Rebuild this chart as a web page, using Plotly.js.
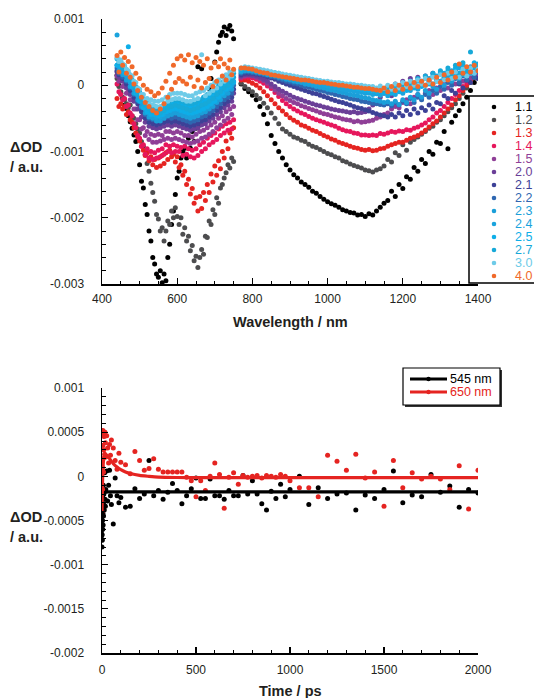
<!DOCTYPE html>
<html>
<head>
<meta charset="utf-8">
<script src="https://cdn.plot.ly/plotly-3.0.1.min.js"></script>
<style>html,body{margin:0;padding:0;background:#fff;}#chart{width:534px;height:698px;}</style>
</head>
<body>
<div id="chart"></div>
<script>
// ---------------- DATA (top panel, values in units of 1e-4 ΔOD) ----------------
const seriesNames = ['1.1','1.2','1.3','1.4','1.5','2.0','2.1','2.2','2.3','2.4','2.5','2.7','3.0','4.0'];
const seriesColors = ['#000000','#4d4d4f','#e52421','#e6175c','#8f3f97','#6b3f98','#3d4197','#2f67b1',
                      '#1b9fd9','#1aa3dd','#0eaee8','#17a9d8','#6ecbe8','#f0692a'];

const wlVis = [440,445,450,455,460,465,470,475,480,485,490,495,500,505,510,515,520,525,530,535,540,545,550,555,
               560,565,570,575,580,585,590,595,600,605,610,615,620,625,630,635,640,645,650,655,660,665,670,675,
               680,685,690,695,700,705,710,715,720,725,730,735,740,745,750];
const wlNir = [770,780,790,800,810,820,830,840,850,860,870,880,890,900,910,920,930,940,950,960,970,980,990,1000,
               1010,1020,1030,1040,1050,1060,1070,1080,1090,1100,1110,1120,1130,1140,1150,1160,1170,1180,1190,1200,
               1210,1220,1230,1240,1250,1260,1270,1280,1290,1300,1310,1320,1330,1340,1350,1360,1370,1380,1390,1400];

const vis_1_1 = [1.5,0.0,-1.2,-2.0,-3.0,-3.5,-4.6,-5.5, -6.5,-7.5,-8.5,-10.0,-12.0,-14.5,-15.5,-18.0,
  -19.5,-22.0,-23.5,-26.0,-27.0,-28.5,-29.0,-28.0, -29.8,-28.5,-29.5,-26.0,-24.0,-21.0,-19.0,-16.5,
  -14.0,-13.0,-11.0,-10.0,-9.5,-11.0,-8.0,-9.5, -7.0,-8.5,-6.5,2.8,-6.0,2.5,-4.0,-2.0,
  -3.5,-0.5,1.0,-1.0,3.5,5.0,6.5,7.5, 8.0,8.8,7.5,8.5,9.0,8.2,7.0];
const vis_1_2 = [1.0,-0.2,-1.0,-1.8,-2.2,-2.8,-3.4,-3.0, -4.6,-5.0,-5.8,-6.6,-7.2,-8.5,-9.2,-10.5,
  -11.8,-13.0,-14.8,-16.2,-17.5,-19.5,-20.2,-22.0, -21.5,-23.5,-22.0,-20.5,-21.0,-19.0,-20.0,-18.5,
  -19.8,-21.0,-20.0,-22.5,-21.5,-23.5,-22.8,-25.0, -24.2,-26.5,-25.8,-27.5,-26.0,-24.8,-25.5,-22.8,
  -23.0,-20.5,-21.0,-18.8,-19.5,-17.0,-17.8,-15.5, -15.0,-14.0,-13.2,-12.0,-12.5,-11.0,-11.5];
const vis_1_3 = [-2.0,-3.2,-2.8,-3.6,-3.2,-4.4,-4.0,-5.2, -5.6,-6.4,-7.2,-7.8,-8.4,-9.2,-9.8,-10.6,
  -10.2,-11.4,-10.8,-12.0,-11.2,-12.4,-11.0,-12.2, -10.6,-11.8,-10.2,-11.2,-9.8,-10.8,-10.4,-11.6,
  -10.8,-12.4,-12.0,-13.6,-13.0,-15.0,-14.2,-16.4, -15.6,-17.8,-17.0,-19.0,-16.8,-18.6,-16.2,-17.4,
  -15.0,-16.2,-13.4,-14.6,-12.2,-13.6,-11.4,-12.6, -10.0,-11.0,-8.4,-9.6,-7.2,-8.0,-6.4];
const vis_1_4 = [0.2,-1.0,-1.4,-2.2,-2.0,-3.2,-3.0,-4.2, -4.6,-5.8,-6.4,-7.6,-8.0,-9.2,-9.0,-10.4,
  -9.6,-11.0,-10.0,-11.2,-10.2,-11.0,-9.8,-10.8, -9.6,-10.4,-9.0,-10.0,-9.2,-10.2,-9.0,-10.0,
  -9.2,-10.0,-9.4,-10.6,-9.2,-10.4,-9.6,-10.8, -9.8,-11.0,-9.6,-10.6,-9.0,-10.0,-8.6,-9.6,
  -8.0,-9.0,-7.6,-8.6,-7.2,-8.2,-6.6,-7.6, -6.2,-7.2,-5.8,-6.8,-5.6,-6.6,-5.2];
const vis_1_5 = [1.4,0.6,1.0,-0.2,0.0,-1.2,-1.0,-2.2, -2.2,-3.6,-3.6,-5.2,-5.2,-6.6,-6.4,-7.6,
  -7.0,-8.2,-7.4,-8.6,-7.6,-8.6,-7.4,-8.4, -7.6,-8.2,-7.0,-8.0,-7.0,-8.2,-7.2,-8.0,
  -7.0,-8.2,-7.2,-8.4,-7.6,-8.6,-7.6,-8.8, -7.8,-8.6,-7.4,-8.4,-7.0,-8.0,-6.8,-7.8,
  -6.4,-7.4,-6.0,-7.0,-5.6,-6.4,-5.0,-6.0, -4.6,-5.4,-4.0,-5.0,-3.6,-4.4,-3.2];
const vis_2_0 = [2.0,1.2,1.6,0.6,0.8,-0.4,-0.2,-1.4, -1.2,-2.4,-2.2,-3.6,-3.4,-4.8,-4.4,-5.6,
  -5.0,-6.2,-5.4,-6.4,-5.6,-6.6,-5.4,-6.4, -5.6,-6.2,-5.0,-6.0,-5.0,-6.2,-5.2,-6.0,
  -5.0,-6.2,-5.2,-6.4,-5.6,-6.6,-5.6,-6.8, -5.8,-6.6,-5.4,-6.4,-5.0,-6.0,-4.8,-5.8,
  -4.4,-5.4,-4.0,-5.0,-3.6,-4.4,-3.0,-4.0, -2.6,-3.4,-2.0,-3.0,-1.6,-2.4,-1.2];
const vis_2_1 = [2.2,1.6,1.8,1.0,1.2,0.2,0.4,-0.8, -0.6,-1.8,-1.6,-2.8,-2.8,-4.0,-3.8,-5.0,
  -4.4,-5.6,-4.8,-5.8,-5.0,-6.0,-4.8,-5.8, -5.0,-5.6,-4.4,-5.4,-4.4,-5.6,-4.6,-5.4,
  -4.4,-5.6,-4.6,-5.8,-5.0,-6.0,-5.0,-6.2, -5.2,-6.0,-4.8,-5.8,-4.4,-5.4,-4.2,-5.2,
  -3.8,-4.8,-3.4,-4.4,-3.0,-3.8,-2.4,-3.4, -2.0,-2.8,-1.4,-2.4,-1.0,-1.8,-0.6];
const vis_2_2 = [2.6,1.8,2.2,1.2,1.6,0.6,0.8,-0.4, -0.2,-1.4,-1.2,-2.4,-2.2,-3.4,-3.2,-4.4,
  -3.8,-5.0,-4.2,-5.2,-4.4,-5.4,-4.2,-5.2, -4.4,-5.0,-3.8,-4.8,-3.8,-5.0,-4.0,-4.8,
  -3.8,-5.0,-4.0,-5.2,-4.4,-5.4,-4.4,-5.6, -4.6,-5.4,-4.2,-5.2,-3.8,-4.8,-3.6,-4.6,
  -3.2,-4.2,-2.8,-3.8,-2.4,-3.2,-1.8,-2.8, -1.4,-2.2,-0.8,-1.8,-0.4,-1.2,0.0];
const vis_2_3 = [3.0,2.2,2.6,1.6,1.8,0.8,1.0,-0.2, 0.0,-1.2,-1.0,-2.2,-2.0,-3.2,-3.0,-4.2,
  -3.6,-4.8,-4.0,-5.0,-4.2,-5.4,-4.4,-5.4, -4.2,-5.0,-3.8,-4.6,-3.4,-4.4,-3.4,-4.2,
  -3.2,-4.4,-3.4,-4.6,-3.8,-4.8,-3.8,-5.0, -4.0,-4.8,-3.6,-4.6,-3.2,-4.2,-3.0,-4.0,
  -2.6,-3.6,-2.2,-3.2,-1.8,-2.6,-1.2,-2.2, -0.8,-1.6,-0.2,-1.2,0.2,-0.6,0.6];
const vis_2_4 = [7.6,2.8,3.0,2.2,2.2,1.4,1.4,0.4, 0.4,-0.6,-0.6,-1.6,-1.4,-2.6,-2.4,-3.6,
  -3.0,-4.2,-3.4,-4.4,-3.6,-4.8,-3.8,-4.8, -3.6,-4.4,-3.2,-4.0,-2.8,-3.8,-2.8,-3.6,
  -2.6,-3.8,-2.8,-4.0,-3.2,-4.2,-3.2,-4.4, -3.4,-4.2,-3.0,-4.0,-2.6,-3.6,-2.4,-3.4,
  -2.0,-3.0,-1.6,-2.6,-1.2,-2.0,-0.6,-1.6, -0.2,-1.0,0.4,-0.6,0.8,0.0,1.2];
const vis_2_5 = [3.0,3.8,2.6,3.0,1.8,2.0,5.8,1.0, -0.2,0.0,-1.2,-1.0,-2.4,-2.0,-3.4,-2.8,
  -4.0,-3.2,-4.4,-3.6,-4.4,-3.6,-4.6,-3.6, -4.4,-3.4,-4.0,-3.0,-3.8,-2.8,-3.6,-2.6,
  -3.6,-2.6,-3.8,-2.8,-4.0,-3.0,-4.2,-3.2, -4.2,-3.0,-4.0,-2.8,-3.8,-2.6,-3.6,-2.2,
  -3.2,-1.8,-2.8,-1.4,-2.4,-1.0,-1.8,-0.4, -1.2,0.2,-0.6,0.8,-0.2,1.2,0.4];
const vis_2_7 = [4.0,3.4,3.6,2.6,2.8,1.8,1.8,0.8, 0.8,-0.2,-0.2,-1.2,-1.0,-2.2,-2.0,-3.0,
  -2.6,-3.6,-3.0,-4.0,-3.2,-4.2,-3.4,-4.2, -3.2,-3.8,-2.8,-3.4,-2.4,-3.2,-2.2,-3.0,
  -2.2,-3.2,-2.4,-3.4,-2.6,-3.6,-2.8,-3.8, -2.8,-3.6,-2.6,-3.4,-2.2,-3.0,-1.8,-2.8,
  -1.4,-2.4,-1.0,-2.0,-0.6,-1.4,0.0,-1.0, 0.4,-0.4,1.0,0.0,1.4,0.6,1.8];
const vis_3_0 = [4.2,3.6,3.8,3.2,3.0,2.4,2.2,1.6, 1.4,0.6,0.4,-0.4,-0.6,-1.4,-1.4,-2.2,
  -2.0,-2.8,-2.2,-3.0,-2.4,-3.2,-2.4,-3.2, -2.2,-2.8,-1.8,-2.4,-1.4,-2.2,-1.2,-2.0,
  -1.2,-2.0,-1.2,-2.2,-1.4,-2.4,-1.6,-2.4, -1.6,-2.2,-1.2,-2.0,-1.0,4.6,-0.8,-1.6,
  -0.4,-1.2,0.0,-0.8,0.4,-0.4,0.8,0.2, 1.2,0.6,1.6,1.0,2.0,1.4,2.2];
const vis_4_0 = [4.5,2.0,5.0,3.0,4.2,1.8,3.6,1.2, 2.8,0.2,1.8,-0.8,1.0,-1.8,0.0,-2.6,
  -0.6,-3.2,-1.0,-3.8,-1.6,-4.2,-1.2,-3.6, -0.4,-2.8,0.6,-1.8,1.8,-0.6,3.0,0.4,
  4.0,1.0,4.4,0.6,3.8,0.2,4.6,1.2, 3.4,-0.2,4.2,0.8,3.6,-0.4,3.0,0.4,
  4.0,1.0,2.6,-0.2,3.4,0.6,2.8,4.0, 1.4,3.2,0.8,2.6,3.8,1.6,2.4];

const nir_1_1 = [0.2,-0.5,-1.0,-1.5,-2.2,-3.2,-4.4,-5.8, -7.6,-8.8,-10.0,-11.0,-12.0,-12.8,-13.5,-14.0,
  -14.6,-15.0,-15.4,-16.0,-16.3,-16.8,-17.2,-17.6, -17.9,-18.1,-18.4,-18.8,-19.0,-19.2,-19.3,-19.6,
  -19.5,-19.8,-19.4,-19.6,-19.0,-18.4,-17.8,-17.4, -16.0,-16.8,-15.0,-15.6,-13.8,-14.2,-12.4,-13.0,
  -11.2,-11.8,-10.0,-10.4,-8.6,-8.8,-7.0,-9.6, -5.6,-4.6,-3.8,-2.8,-1.8,-0.8,0.4,1.6];
const nir_1_2 = [0.3,-0.2,-0.6,-1.0,-1.5,-2.0,-2.7,-3.4, -4.2,-5.0,-5.8,-6.6,-7.0,-7.4,-7.8,-8.0,
  -8.3,-8.5,-8.9,-9.2,-9.4,-9.7,-10.0,-10.3, -10.5,-10.8,-11.0,-11.4,-11.6,-11.9,-12.1,-12.3,
  -12.5,-12.8,-12.9,-13.1,-12.8,-12.6,-12.2,-11.2, -11.6,-10.2,-10.6,-9.0,-9.8,-8.6,-8.2,-7.8,
  -7.4,-7.0,-6.5,-6.2,-5.6,-5.2,-4.6,-4.0, -3.4,-2.8,-2.0,-1.2,-0.4,0.4,1.2,2.0];
const nir_1_3 = [0.8,0.8,0.6,0.3,0.0,-0.4,-1.0,-1.6, -2.2,-2.8,-3.4,-3.9,-4.4,-4.9,-5.3,-5.6,
  -6.0,-6.2,-6.5,-6.8,-7.0,-7.3,-7.6,-7.8, -8.1,-8.3,-8.6,-8.8,-9.0,-9.2,-9.4,-9.5,
  -9.7,-9.8,-9.7,-9.9,-9.8,-9.6,-9.5,-9.2, -9.0,-8.8,-8.6,-8.6,-8.3,-8.0,-7.8,-7.6,
  -7.2,-6.8,-6.3,-5.8,-5.4,-4.8,-4.2,-3.6, -3.0,-2.2,-1.6,-0.8,0.0,0.6,1.2,1.4];
const nir_1_4 = [1.0,1.2,1.2,1.1,0.9,0.6,0.3,-0.1, -0.5,-1.1,-1.7,-2.3,-2.8,-3.2,-3.6,-3.9,
  -4.2,-4.4,-4.7,-5.0,-5.2,-5.4,-5.6,-5.8, -6.0,-6.2,-6.5,-6.7,-6.9,-7.0,-7.2,-7.3,
  -7.5,-7.5,-7.6,-7.5,-7.6,-7.3,-7.4,-7.2, -7.0,-7.1,-6.9,-7.0,-6.7,-6.8,-6.5,-6.3,
  -6.0,-5.7,-5.2,-4.8,-4.2,-3.8,-3.2,-2.6, -2.0,-1.4,-0.8,-0.2,0.4,1.0,1.4,1.8];
const nir_1_5 = [1.2,1.4,1.5,1.4,1.2,1.0,0.7,0.3, -0.2,-0.7,-1.2,-1.6,-2.0,-2.3,-2.6,-2.8,
  -3.1,-3.3,-3.5,-3.7,-3.9,-4.1,-4.3,-4.4, -4.6,-4.8,-4.9,-5.1,-5.2,-5.3,-5.5,-5.4,
  -5.6,-5.5,-5.4,-5.3,-5.0,-4.8,-4.4,-4.2, -3.6,-3.2,-3.4,-2.6,-2.2,-2.8,-1.8,-1.4,
  -2.0,-1.2,-0.8,-1.4,-0.4,-0.8,0.2,-0.4, 0.6,0.2,1.0,0.6,1.4,1.0,1.8,1.4];
const nir_2_0 = [1.4,1.6,1.6,1.5,1.4,1.2,0.9,0.6, 0.2,-0.2,-0.6,-0.9,-1.2,-1.5,-1.8,-2.0,
  -2.2,-2.4,-2.6,-2.8,-3.0,-3.1,-3.3,-3.4, -3.6,-3.7,-3.8,-3.9,-4.0,-4.1,-4.0,-4.2,
  -4.1,-4.0,-3.6,-3.0,-2.4,-1.8,-1.2,-0.6, -1.6,0.2,-0.8,0.6,-0.2,1.0,0.2,1.2,
  0.4,1.4,0.6,1.8,0.8,2.0,1.0,1.6, 0.6,2.2,1.2,1.8,0.8,2.4,1.4,2.0];
const nir_2_1 = [1.6,1.8,1.8,1.8,1.7,1.6,1.5,1.3, 1.1,0.9,0.6,0.4,0.2,0.0,-0.2,-0.4,
  -0.6,-0.8,-1.0,-1.2,-1.3,-1.5,-1.7,-1.9, -2.1,-2.3,-2.5,-2.6,-2.8,-3.0,-3.2,-3.4,
  -3.5,-3.7,-3.9,-4.1,-4.3,-4.5,-4.6,-4.8, -4.4,-4.8,-4.2,-4.6,-3.8,-4.4,-3.6,-4.2,
  -3.4,-3.8,-3.0,-3.6,-2.6,-2.8,-1.6,-2.0, -0.8,-1.2,0.2,-0.4,0.8,0.4,1.2,1.0];
const nir_2_2 = [1.8,2.0,2.0,1.9,1.8,1.7,1.6,1.5, 1.3,1.2,1.0,0.8,0.6,0.5,0.3,0.2,
  0.0,-0.2,-0.3,-0.5,-0.6,-0.8,-0.9,-1.1, -1.2,-1.4,-1.5,-1.7,-1.8,-2.0,-2.1,-2.2,
  -2.4,-2.5,-2.6,-2.7,-2.8,-2.9,-3.0,-2.8, -3.1,-2.6,-3.0,-2.4,-2.8,-2.0,-2.6,-1.8,
  -2.2,-1.4,-1.8,-0.8,-1.2,-0.2,-0.6,0.4, 0.0,1.0,0.4,1.4,0.8,1.8,1.2,2.2];
const nir_2_3 = [2.0,2.2,2.2,2.1,2.0,1.9,1.8,1.6, 1.5,1.4,1.2,1.1,0.9,0.8,0.6,0.5,
  0.4,0.2,0.1,0.0,-0.2,-0.3,-0.4,-0.6, -0.7,-0.8,-1.0,-1.1,-1.2,-1.4,-1.5,-1.6,
  -1.8,-1.9,-2.0,-2.2,-2.3,-2.4,-2.6,-2.5, -2.8,-2.4,-2.9,-2.2,-2.6,-1.8,-2.2,-1.4,
  -1.8,-0.8,-1.2,-0.2,-0.6,0.6,0.0,1.2, 0.6,1.8,1.0,2.2,1.4,2.8,1.8,3.2];
const nir_2_4 = [2.2,2.4,2.3,2.2,2.1,2.0,1.9,1.8, 1.7,1.5,1.4,1.3,1.2,1.0,0.9,0.8,
  0.7,0.6,0.4,0.3,0.2,0.1,0.0,-0.1, -0.2,-0.4,-0.5,-0.6,-0.7,-0.8,-0.9,-1.0,
  -1.1,-1.2,-1.2,-1.4,-1.3,-1.5,-1.2,-1.6, -1.0,-1.4,-0.6,-1.2,-0.4,-0.8,0.2,-0.6,
  0.6,0.0,1.0,0.2,1.4,0.6,1.8,1.0, 2.2,1.2,2.6,1.6,2.4,1.8,3.0,2.2];
const nir_2_5 = [2.3,2.5,2.4,2.4,2.3,2.2,2.1,2.0, 1.9,1.8,1.6,1.5,1.4,1.3,1.2,1.1,
  1.0,0.9,0.8,0.7,0.6,0.5,0.4,0.3, 0.2,0.1,0.0,-0.1,-0.2,-0.3,-0.4,-0.5,
  -0.6,-0.7,-0.8,-0.8,-1.0,-0.7,-1.1,-0.6, -1.2,-0.4,-1.0,-0.2,-0.8,0.2,-0.4,0.6,
  -0.2,1.0,0.2,1.4,0.6,1.8,1.0,2.2, 1.2,2.6,1.6,3.0,2.0,2.6,3.4,2.4];
const nir_2_7 = [2.4,2.6,2.6,2.5,2.4,2.3,2.2,2.1, 2.0,1.9,1.8,1.6,1.5,1.4,1.3,1.2,
  1.1,1.0,0.9,0.8,0.7,0.6,0.5,0.4, 0.3,0.3,0.2,0.1,0.0,-0.1,-0.2,-0.2,
  -0.3,-0.4,-0.5,-0.5,-0.7,-0.4,-0.8,-0.2, -0.9,0.0,-0.6,0.2,-0.4,0.6,-0.2,1.0,
  0.2,1.4,0.4,1.8,0.8,2.2,1.2,2.6, 1.4,3.0,1.8,3.4,2.2,5.0,2.6,3.0];
const nir_3_0 = [2.6,2.8,2.7,2.6,2.5,2.4,2.3,2.2, 2.0,1.9,1.8,1.7,1.6,1.5,1.4,1.3,
  1.2,1.1,1.0,0.9,0.8,0.7,0.6,0.6, 0.5,0.4,0.4,0.3,0.2,0.2,0.1,0.0,
  0.0,-0.1,-0.2,-0.2,-0.4,-0.1,-0.5,0.0, -0.6,0.2,-0.4,0.4,-0.2,0.6,0.0,0.8,
  0.2,1.0,0.4,1.2,0.6,1.6,0.8,1.8, 1.0,2.0,1.2,2.4,1.4,2.6,1.8,2.4];
const nir_4_0 = [2.6,2.6,2.5,2.4,2.2,2.0,1.9,1.8, 1.6,1.5,1.4,1.3,1.2,1.1,1.0,0.9,
  0.8,0.8,0.7,0.6,0.5,0.4,0.4,0.3, 0.2,0.1,0.0,0.0,-0.1,-0.2,-0.3,-0.3,
  -0.4,-0.5,-0.5,-0.6,-0.7,-0.8,-0.4,-1.0, -0.2,-0.8,0.0,-0.6,0.2,-0.4,0.4,-0.2,
  0.6,0.0,0.8,0.2,1.2,0.4,1.6,0.8, 2.0,1.2,3.2,1.8,2.8,2.0,3.0,2.2];

const visSeries = [vis_1_1,vis_1_2,vis_1_3,vis_1_4,vis_1_5,vis_2_0,vis_2_1,vis_2_2,vis_2_3,vis_2_4,vis_2_5,vis_2_7,vis_3_0,vis_4_0];
const nirSeries = [nir_1_1,nir_1_2,nir_1_3,nir_1_4,nir_1_5,nir_2_0,nir_2_1,nir_2_2,nir_2_3,nir_2_4,nir_2_5,nir_2_7,nir_3_0,nir_4_0];

const topXTicks = [400,600,800,1000,1200,1400];
const topXTickText = ['400','600','800','1000','1200','1400'];
const topYTicks = [0.001,0,-0.001,-0.002,-0.003];
const topYTickText = ['0.001','0','-0.001','-0.002','-0.003'];

// ---------------- DATA (bottom panel, values in units of 1e-4 ΔOD) ----------------
const kinNames = ['545 nm','650 nm'];
const kinColors = ['#000000','#e52421'];
const timePs = [0,1,2,3,4,5,6,7,8,9,10,12,14,16,18,20,25,30,35,40,45,50,60,70,80,90,100,
  125,150,175,200,225,250,275,300,325,350,375,400,425,450,475,500,
  525,550,575,600,625,650,675,700,725,750,775,800,825,850,875,900,925,950,975,1000,
  1050,1100,1150,1200,1250,1300,1350,1400,1450,1500,1550,1600,1650,1700,1750,1800,1850,1900,1950,2000];
const od545 = [-8.0,-6.6,-7.2,-5.0,-6.0,-4.2,-5.5,-1.0,-4.5,-3.2,-2.0,-3.8,0.4,-2.6,-3.4,-1.5,0.6,-2.8,-1.0,0.7,-2.2,-3.2,-5.4,-0.2,-2.2,-3.0,-2.4,
  -3.5,-3.4,-1.4,-2.5,-2.0,1.8,-2.2,-1.6,-2.6,-1.8,-0.8,-1.6,-3.1,-2.2,-1.4,-0.2,
  -2.5,-2.5,-0.3,-2.2,-2.2,-2.6,-1.6,-2.2,-2.2,0.1,-2.0,-0.5,-2.0,-3.1,-3.8,-1.7,-2.5,-0.9,-2.3,-1.5,
  0.0,-3.2,-1.3,-2.5,-2.0,-1.9,-3.8,-2.1,-2.5,-1.5,0.6,-3.0,-2.1,-2.3,0.2,-1.8,-1.1,-3.5,-1.5,-1.9];
const od650 = [-4.0,-2.5,1.0,-1.5,3.5,5.2,2.0,4.8,0.5,5.0,3.0,4.5,2.5,5.0,3.8,2.2,4.6,3.2,1.5,3.6,2.4,4.1,3.2,1.8,0.8,2.6,1.6,
  1.3,0.3,2.8,1.8,0.7,0.9,2.0,0.8,0.5,0.5,0.5,0.5,0.5,-0.1,-0.5,-2.3,
  -0.5,-1.6,0.0,1.5,0.2,-3.6,-0.1,0.4,-0.9,0.1,-0.1,0.0,0.1,-0.2,0.1,0.0,-0.1,0.2,0.0,-0.5,
  -1.3,-1.3,-2.3,2.4,1.7,0.7,2.5,-0.2,0.5,-3.4,1.8,-1.3,0.4,-0.3,0.0,-0.3,-1.5,1.2,-3.7,0.7];
const fitT = [0,1,2,3,4,6,8,10,15,20,25,30,40,50,60,80,100,125,150,200,250,300,400,500,1000,1500,2000];
const fit545 = [-7.5,-6.0,-4.8,-3.9,-3.3,-2.6,-2.2,-2.0,-1.85,-1.8,-1.78,-1.76,-1.75,-1.75,-1.75,-1.75,-1.75,-1.75,-1.75,-1.75,-1.75,-1.75,-1.75,-1.75,-1.75,-1.75,-1.75];
const fit650 = [-4.0,-2.6,-1.5,-0.6,0.2,1.2,1.8,2.1,2.4,2.5,2.4,2.3,2.0,1.7,1.45,1.05,0.75,0.5,0.32,0.1,0.0,-0.08,-0.13,-0.15,-0.15,-0.15,-0.15];

const botXTicks = [0,500,1000,1500,2000];
const botXTickText = ['0','500','1000','1500','2000'];
const botYTicks = [0.001,0.0005,0,-0.0005,-0.001,-0.0015,-0.002];
const botYTickText = ['0.001','0.0005','0','-0.0005','-0.001','-0.0015','-0.002'];

// ---------------- BUILD ----------------
const UNIT = 1e-4;
const toOD = a => a.map(v => v * UNIT);
const FONT = 'Liberation Sans, Arial, Helvetica, sans-serif';
const W = 534, H = 698, ML = 102, MR = 56, MT = 19, MB = 45;
const PW = W - ML - MR, PH = H - MT - MB;
const PX = p => (p - ML) / PW;           // pixel x -> paper x
const PY = p => (H - MB - p) / PH;       // pixel y -> paper y

const traces = [];
seriesNames.forEach((nm, i) => {
  traces.push({
    type: 'scatter', mode: 'markers', name: nm, showlegend: false,
    x: wlVis.concat(wlNir), y: toOD(visSeries[i].concat(nirSeries[i])),
    xaxis: 'x', yaxis: 'y',
    marker: {color: seriesColors[i], size: 5, line: {width: 0}}
  });
});
traces.push({type:'scatter', mode:'markers', name:kinNames[0], showlegend:false, x:timePs, y:toOD(od545),
  xaxis:'x2', yaxis:'y2', marker:{color:kinColors[0], size:5, line:{width:0}}});
traces.push({type:'scatter', mode:'markers', name:kinNames[1], showlegend:false, x:timePs, y:toOD(od650),
  xaxis:'x2', yaxis:'y2', marker:{color:kinColors[1], size:5, line:{width:0}}});
traces.push({type:'scatter', mode:'lines', name:kinNames[0]+' fit', showlegend:false, x:fitT, y:toOD(fit545),
  xaxis:'x2', yaxis:'y2', line:{color:kinColors[0], width:3.2, shape:'spline', smoothing:0.6}});
traces.push({type:'scatter', mode:'lines', name:kinNames[1]+' fit', showlegend:false, x:fitT, y:toOD(fit650),
  xaxis:'x2', yaxis:'y2', line:{color:kinColors[1], width:3.2, shape:'spline', smoothing:0.6}});

const axisBase = {
  showline: true, linecolor: '#000', linewidth: 1.5, mirror: false,
  showgrid: false, zeroline: false,
  ticks: 'inside', ticklen: 6, tickwidth: 1.2, tickcolor: '#000',
  tickmode: 'array', tickfont: {family: FONT, size: 12, color: '#231f20'},
  fixedrange: true
};
const minorBase = {ticks: 'inside', ticklen: 3.5, tickwidth: 1, tickcolor: '#000', showgrid: false};

const layout = {
  width: W, height: H,
  margin: {l: ML, r: MR, t: MT, b: MB, pad: 0, autoexpand: false},
  paper_bgcolor: '#fff', plot_bgcolor: '#fff',
  showlegend: false,
  font: {family: FONT, color: '#231f20'},
  xaxis: Object.assign({}, axisBase, {domain: [0,1], anchor: 'y', range: [400,1400],
    tickvals: topXTicks, ticktext: topXTickText, ticklabelstandoff: 3,
    minor: Object.assign({}, minorBase, {tickmode: 'linear', tick0: 400, dtick: 50})}),
  yaxis: Object.assign({}, axisBase, {domain: [PY(284), PY(19)], anchor: 'x', range: [-0.003, 0.001],
    tickvals: topYTicks, ticktext: topYTickText, ticklabelstandoff: 14,
    minor: Object.assign({}, minorBase, {tickmode: 'linear', tick0: 0, dtick: 0.0002})}),
  xaxis2: Object.assign({}, axisBase, {domain: [0,1], anchor: 'y2', range: [0,2000],
    tickvals: botXTicks, ticktext: botXTickText, ticklabelstandoff: 5,
    minor: Object.assign({}, minorBase, {tickmode: 'linear', tick0: 0, dtick: 100})}),
  yaxis2: Object.assign({}, axisBase, {domain: [0, PY(388)], anchor: 'x2', range: [-0.002, 0.001],
    tickvals: botYTicks, ticktext: botYTickText, ticklabelstandoff: 14,
    minor: Object.assign({}, minorBase, {tickmode: 'linear', tick0: 0, dtick: 0.0001})}),
  shapes: [],
  annotations: []
};

const titleFont = {family: FONT, size: 14.5, color: '#231f20'};
function addText(text, xp, yp, xanchor, font) {
  layout.annotations.push({text: text, xref: 'paper', yref: 'paper', x: PX(xp), y: PY(yp),
    xanchor: xanchor, yanchor: 'middle', showarrow: false, font: font, borderpad: 0});
}
// axis titles
addText('<b>ΔOD</b>', 9, 147, 'left', titleFont);
addText('<b>/ a.u.</b>', 9, 167, 'left', titleFont);
addText('<b>Wavelength / nm</b>', 290, 322, 'center', titleFont);
addText('<b>ΔOD</b>', 9, 517, 'left', titleFont);
addText('<b>/ a.u.</b>', 9, 537, 'left', titleFont);
addText('<b>Time / ps</b>', 290, 691, 'center', titleFont);

// top legend (box partly outside the page, as in the figure)
layout.shapes.push({type: 'rect', layer: 'above', xref: 'paper', yref: 'paper',
  x0: PX(469), x1: PX(600), y0: PY(283), y1: PY(96),
  fillcolor: '#fff', line: {color: '#000', width: 1.5}});
seriesNames.forEach((nm, i) => {
  const yr = 107 + 13 * i;
  layout.shapes.push({type: 'circle', layer: 'above', xref: 'paper', yref: 'paper',
    xsizemode: 'pixel', ysizemode: 'pixel', xanchor: PX(494), yanchor: PY(yr),
    x0: -2.3, x1: 2.3, y0: -2.3, y1: 2.3, fillcolor: seriesColors[i], line: {width: 0}});
  addText(nm, 514, yr, 'left', {family: FONT, size: 12.5, color: seriesColors[i]});
});

// bottom legend
layout.shapes.push({type: 'rect', layer: 'above', xref: 'paper', yref: 'paper',
  x0: PX(405), x1: PX(502), y0: PY(407), y1: PY(370), fillcolor: '#333', line: {width: 0}});
layout.shapes.push({type: 'rect', layer: 'above', xref: 'paper', yref: 'paper',
  x0: PX(403), x1: PX(500), y0: PY(405), y1: PY(368), fillcolor: '#fff', line: {color: '#000', width: 1.2}});
kinNames.forEach((nm, i) => {
  const yr = 379 + 13 * i;
  layout.shapes.push({type: 'line', layer: 'above', xref: 'paper', yref: 'paper',
    x0: PX(410), x1: PX(447), y0: PY(yr), y1: PY(yr), line: {color: kinColors[i], width: 3}});
  layout.shapes.push({type: 'circle', layer: 'above', xref: 'paper', yref: 'paper',
    xsizemode: 'pixel', ysizemode: 'pixel', xanchor: PX(428.5), yanchor: PY(yr),
    x0: -2.2, x1: 2.2, y0: -2.2, y1: 2.2, fillcolor: kinColors[i], line: {width: 0}});
  addText(nm, 449, yr, 'left', {family: FONT, size: 12.5, color: kinColors[i]});
});

Plotly.newPlot('chart', traces, layout, {staticPlot: true, displayModeBar: false});
</script>
</body>
</html>
